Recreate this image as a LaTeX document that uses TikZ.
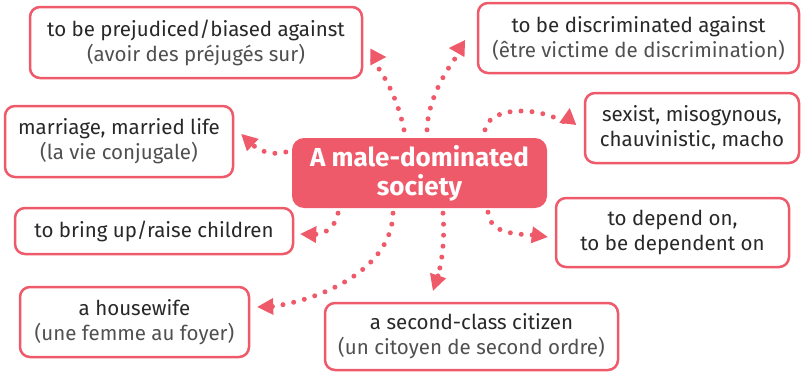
\documentclass[tikz,border=0pt]{standalone}
\usepackage{fontspec}
\setmainfont{Fira Sans}
\usetikzlibrary{arrows.meta}
\definecolor{rose}{RGB}{238,90,105}
\definecolor{ink}{RGB}{40,40,40}
\definecolor{gloss}{RGB}{80,80,80}
\newcommand\trn[1]{{\color{gloss}#1}}
\tikzset{
  term/.style={draw=rose, line width=2.5pt, rounded corners=10pt, fill=white,
    inner sep=0pt, align=center, text=ink, font=\fontsize{20.5}{25}\selectfont},
  hub/.style={fill=rose, rounded corners=12pt, inner sep=0pt, align=center,
    text=white, font=\fontsize{26}{29}\selectfont\bfseries},
  link/.style={rose, line width=5pt, line cap=round, dash pattern=on 0pt off 11pt,
    -{Triangle[length=16pt,width=17pt,line width=0pt]}},
}
\begin{document}
\begin{tikzpicture}[x=1pt,y=-1pt]
\useasboundingbox (0,0) rectangle (801,372);

% central idea
\node[hub, minimum width=255pt, minimum height=70pt] (c) at (419.5,173)
  {A male-dominated\\society};

% surrounding terms
\node[term, minimum width=332pt, minimum height=71pt] (prej) at (196,42.5)
  {to be prejudiced/biased against\\\trn{(avoir des préjugés sur)}};
\node[term, minimum width=321pt, minimum height=70pt] (disc) at (638.5,38)
  {to be discriminated against\\\trn{(être victime de discrimination)}};
\node[term, minimum width=228pt, minimum height=71pt] (marr) at (119,141.5)
  {marriage, married life\\\trn{(la vie conjugale)}};
\node[term, minimum width=214pt, minimum height=70pt] (sex) at (692,128)
  {sexist, misogynous,\\chauvinistic, macho};
\node[term, minimum width=278pt, minimum height=46pt] (bring) at (154,231)
  {to bring up/raise children};
\node[term, minimum width=229pt, minimum height=70pt] (house) at (134.5,322)
  {a housewife\\\trn{(une femme au foyer)}};
\node[term, minimum width=293pt, minimum height=67pt] (second) at (471.5,336.5)
  {a second-class citizen\\\trn{(un citoyen de second ordre)}};
\node[term, minimum width=233pt, minimum height=69pt] (dep) at (672.5,232.5)
  {to depend on,\\to be dependent on};

% dotted links
\draw[link] ([shift={(-15.5,-8)}]c.north) .. controls (398,100) and (385,75) ..
  ([shift={(7,14.5)}]prej.east) -- ([shift={(23,14.5)}]prej.east);
\draw[link] ([shift={(7.5,-8)}]c.north) .. controls (428,100) and (445,70) ..
  ([shift={(-14,10.5)}]disc.west) -- ([shift={(-28,10)}]disc.west);
\draw[link] ([shift={(65.5,-8)}]c.north) .. controls (488,108) and (535,104) ..
  ([shift={(-16,-4)}]sex.west) -- ([shift={(-14,-20)}]sex.west);
\draw[link] ([shift={(-6,-21)}]c.west) .. controls (270,156) and (258,150) ..
  ([shift={(17.5,2.5)}]marr.east) -- ([shift={(7,-7.5)}]marr.east);
\draw[link] ([shift={(-81.5,5)}]c.south) .. controls (335,228) and (325,234) ..
  ([shift={(20,3.5)}]bring.east) -- ([shift={(6,3)}]bring.east);
\draw[link] ([shift={(-26.5,5)}]c.south) .. controls (392,265) and (330,298) ..
  ([shift={(22,-15.5)}]house.east) -- ([shift={(7,-15)}]house.east);
\draw[link] ([shift={(23.5,5)}]c.south) .. controls (445,240) and (442,262) ..
  ([shift={(-34,-24.5)}]second.north) -- ([shift={(-38.5,-11)}]second.north);
\draw[link] ([shift={(68.5,4)}]c.south) .. controls (490,232) and (510,234) ..
  ([shift={(-22,2.5)}]dep.west) -- ([shift={(-7,4.5)}]dep.west);
\end{tikzpicture}
\end{document}
